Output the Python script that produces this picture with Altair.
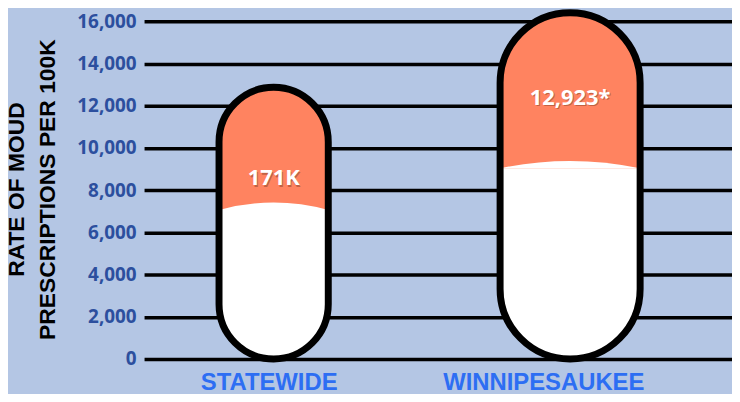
import altair as alt
import pandas as pd

categories = ["STATEWIDE", "WINNIPESAUKEE"]
pill_top = [12870, 16400]
divider_level = [7060, 9035]
pill_label = ["171K", "12,923*"]
label_level = [8565, 12376]
pill_width = [110, 141]
bulge_ctrl = [-0.27, -0.21]
y_ticks = [0, 2000, 4000, 6000, 8000, 10000, 12000, 14000, 16000]

df = pd.DataFrame({
    "category": categories,
    "top": pill_top,
    "divider": divider_level,
    "label": pill_label,
    "label_level": label_level,
    "floor": [0, 0],
})

BG = "#b4c6e4"
ORANGE = "#ff8360"

xscale = alt.Scale(type="point", domain=categories, padding=0.4916, align=0.4446)
yscale = alt.Scale(domain=[0, 16000], nice=False)

x_axis = alt.Axis(
    title=None, domain=False, ticks=False, labelAngle=0, labelLimit=400,
    labelOverlap=False,
    labelFont="Liberation Sans", labelFontSize=24, labelFontWeight="bold",
    labelColor="#2d6ef3", labelPadding=12,
    labelOffset={"condition": {"test": "datum.value === 'STATEWIDE'", "value": -5}, "value": -27},
)
y_axis = alt.Axis(
    values=y_ticks, format=",d", grid=True, gridColor="black", gridWidth=3.5,
    domain=False, ticks=False,
    labelFont="Open Sans", labelFontSize=19, labelFontWeight="bold",
    labelColor="#2c4f9e", labelPadding=8,
    title=["RATE OF MOUD", "PRESCRIPTIONS PER 100K"],
    titleFont="Liberation Sans", titleFontSize=23, titleFontWeight="bold",
    titleColor="black", titleAngle=270, titleLineHeight=31,
    titleX=-139, titleY=169, titleAlign="center", titleBaseline="top",
)

def X():
    return alt.X("category:N", scale=xscale, axis=x_axis)

def Y(field):
    return alt.Y(f"{field}:Q", scale=yscale, axis=y_axis)

layers = []
for cat, w, c in zip(categories, pill_width, bulge_ctrl):
    base = alt.Chart(df).transform_filter(alt.datum.category == cat)
    r = w / 2
    orange = base.mark_bar(size=w, cornerRadius=r, color=ORANGE).encode(
        x=X(), y=Y("top"), y2="floor:Q")
    white = base.mark_bar(size=w, cornerRadiusBottomLeft=r, cornerRadiusBottomRight=r,
                          color="white").encode(x=X(), y=Y("divider"), y2="floor:Q")
    bulge = base.mark_point(shape=f"M -1 0 Q 0 {c} 1 0 Z", size=w * w, filled=True,
                            color="white", opacity=1, strokeWidth=0).encode(
        x=X(), y=Y("divider"))
    outline = base.mark_bar(size=w, cornerRadius=r, fillOpacity=0, stroke="black",
                            strokeWidth=7).encode(x=X(), y=Y("top"), y2="floor:Q")
    shadow = base.mark_text(font="Open Sans", fontSize=22, fontWeight="bold",
                            color="#7a3a20", opacity=0.45, baseline="middle",
                            dx=1, dy=1.5).encode(x=X(), y=Y("label_level"), text="label:N")
    text = base.mark_text(font="Open Sans", fontSize=22, fontWeight="bold",
                          color="white", baseline="middle").encode(
        x=X(), y=Y("label_level"), text="label:N")
    layers += [orange, white, bulge, outline, shadow, text]

chart = alt.layer(*layers).properties(
    width=592, height=340,
    autosize=alt.AutoSizeParams(type="none"),
    padding={"left": 137, "top": 12, "right": 0, "bottom": 34},
    background=BG,
).configure_view(stroke=None)

chart.save("out.html", embed_options={"renderer": "svg", "actions": False})
